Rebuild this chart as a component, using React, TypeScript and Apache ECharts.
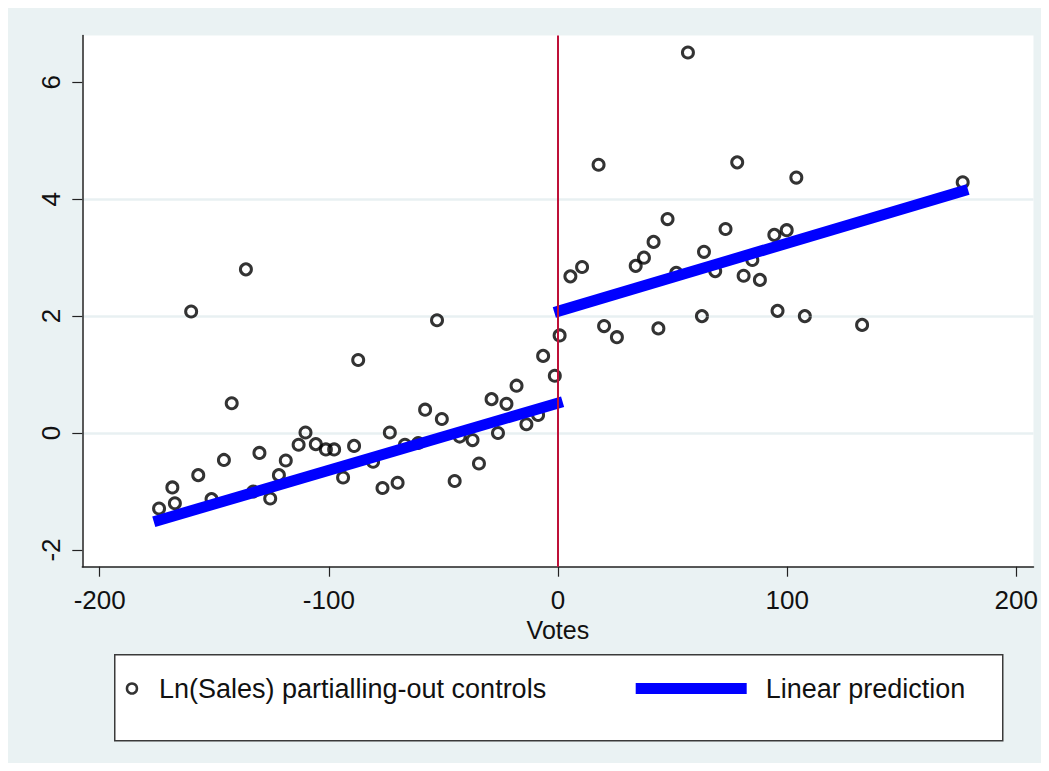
import React, { useEffect, useRef } from "react";
import * as echarts from "echarts";

const SCATTER_NAME = "Ln(Sales) partialling-out controls";
const LINE_NAME = "Linear prediction";
const X_TITLE = "Votes";

const xTicks = [-200, -100, 0, 100, 200];
const yTicks = [-2, 0, 2, 4, 6];
const cutoff = [0];

// Observations (Votes, Ln(Sales) partialling-out controls)
const votes = [
  -136.2, -160.1, -142.4, -110.2, -113.2, -105.7, -101.3, -97.7, -89.0, -87.2,
  -130.3, -145.8, -118.8, -157.0, -121.8, -168.3, -167.2, -174.1, -125.6, -93.8,
  -151.2, -133.0, -52.8, -6.5, -1.4, -18.1, -29.0, -22.5, -58.0, -50.7,
  -8.7, -13.8, -26.2, -37.3, -42.9, -73.4, -76.6, -70.0, -45.1, -34.5,
  -80.7, -66.8, -61.0,
  56.7, 17.7, 78.2, 104.0, 47.8, 41.7, 37.5, 33.9, 10.5, 5.4,
  73.1, 63.7, 51.6, 68.6, 94.4, 99.8, 84.8, 81.0, 88.1, 95.8,
  62.8, 20.1, 25.7, 43.8, 0.7, 107.7, 132.7, 176.6,
];
const lnSales = [
  2.8, 2.08, 0.51, 0.01, -0.2, -0.19, -0.28, -0.28, -0.22, 1.25,
  -0.34, -0.46, -0.47, -0.72, -0.72, -0.93, -1.2, -1.29, -1.12, -0.76,
  -1.13, -1.0, 1.93, 1.32, 0.98, 0.81, 0.58, 0.5, 0.4, 0.24,
  0.31, 0.15, 0.0, -0.12, -0.06, 0.01, -0.94, -0.85, -0.82, -0.52,
  -0.49, -0.2, -0.17,
  6.51, 4.59, 4.63, 4.37, 3.66, 3.27, 3.0, 2.86, 2.84, 2.68,
  3.49, 3.1, 2.74, 2.77, 3.39, 3.47, 2.96, 2.69, 2.62, 2.09,
  2.0, 1.83, 1.64, 1.79, 1.67, 2.0, 1.85, 4.29,
];

// Linear prediction, left and right of the cutoff
const fitLeftVotes = [-174.1, -0.3];
const fitLeftPred = [-1.49, 0.51];
const fitRightVotes = [0.7, 176.6];
const fitRightPred = [2.09, 4.14];

const FONT = "'Liberation Sans', Arial, Helvetica, sans-serif";

export default function App() {
  const ref = useRef<HTMLDivElement>(null);

  useEffect(() => {
    if (!ref.current) return;
    const chart = echarts.init(ref.current, null, { renderer: "svg" });
    const axisColor = "#222";
    const option: any = {
      animation: false,
      backgroundColor: "#EAF2F3",
      textStyle: { fontFamily: FONT },
      grid: {
        left: 74.3,
        right: 7,
        top: 27.5,
        bottom: 196.3,
        show: true,
        backgroundColor: "#ffffff",
        borderWidth: 0,
      },
      xAxis: {
        type: "value",
        min: -207.6,
        max: 207.5,
        name: X_TITLE,
        nameLocation: "middle",
        nameGap: 47,
        nameTextStyle: { fontSize: 25, color: "#111", fontFamily: FONT },
        axisLine: { show: true, onZero: false, lineStyle: { color: axisColor, width: 1.5 } },
        axisTick: { show: true, length: 10, customValues: xTicks, lineStyle: { color: axisColor, width: 1.2 } },
        axisLabel: { customValues: xTicks, fontSize: 26, color: "#111", margin: 20, fontFamily: FONT },
        splitLine: { show: false },
      },
      yAxis: {
        type: "value",
        min: -2.286,
        max: 6.8,
        axisLine: { show: true, onZero: false, lineStyle: { color: axisColor, width: 1.5 } },
        axisTick: { show: true, length: 10, customValues: yTicks, lineStyle: { color: axisColor, width: 1.2 } },
        axisLabel: { customValues: yTicks, rotate: 90, fontSize: 26, color: "#111", margin: 18, fontFamily: FONT },
        splitLine: { show: true, showMinLine: false, showMaxLine: false, lineStyle: { color: "#E8F0F2", width: 2.5 } },
      },
      legend: [
        {
          data: [
            {
              name: SCATTER_NAME,
              icon: "circle",
              itemStyle: { color: "rgba(0,0,0,0)", borderColor: "#000", borderWidth: 2.5 },
            },
          ],
          left: 117.7,
          top: 667,
          itemWidth: 10,
          itemHeight: 10,
          padding: 0,
          z: 5,
          selectedMode: false,
          textStyle: { fontSize: 27, color: "#111", fontFamily: FONT, padding: [0, 0, 0, 17] },
        },
        {
          data: [{ name: LINE_NAME, icon: "rect", itemStyle: { color: "#0000FF" } }],
          left: 627.7,
          top: 667,
          itemWidth: 111,
          itemHeight: 11,
          padding: 0,
          z: 5,
          selectedMode: false,
          textStyle: { fontSize: 27, color: "#111", fontFamily: FONT, padding: [0, 0, 0, 14] },
        },
      ],
      graphic: [
        {
          type: "rect",
          left: 106,
          top: 646,
          z: 1,
          shape: { width: 888, height: 86 },
          style: { fill: "#ffffff", stroke: "#3a3a3a", lineWidth: 1.5 },
        },
      ],
      series: [
        {
          name: SCATTER_NAME,
          type: "scatter",
          symbol: "circle",
          symbolSize: 11,
          z: 3,
          itemStyle: { color: "rgba(0,0,0,0)", borderColor: "#000", borderWidth: 3 },
          data: votes.map((v, i) => [v, lnSales[i]]),
          markLine: {
            silent: true,
            symbol: ["none", "none"],
            label: { show: false },
            lineStyle: { color: "#BE1038", width: 2, type: "solid" },
            data: cutoff.map((c) => ({ xAxis: c })),
          },
        },
        {
          name: LINE_NAME,
          type: "line",
          symbol: "none",
          showSymbol: false,
          z: 4,
          lineStyle: { color: "#0000FF", width: 11, cap: "square" },
          itemStyle: { color: "#0000FF" },
          data: fitLeftVotes.map((v, i) => [v, fitLeftPred[i]]),
        },
        {
          name: LINE_NAME,
          type: "line",
          symbol: "none",
          showSymbol: false,
          z: 4,
          lineStyle: { color: "#0000FF", width: 11, cap: "square" },
          itemStyle: { color: "#0000FF" },
          data: fitRightVotes.map((v, i) => [v, fitRightPred[i]]),
        },
      ],
    };
    chart.setOption(option);
    return () => chart.dispose();
  }, []);

  return <div ref={ref} style={{ width: 1033, height: 755 }} />;
}
